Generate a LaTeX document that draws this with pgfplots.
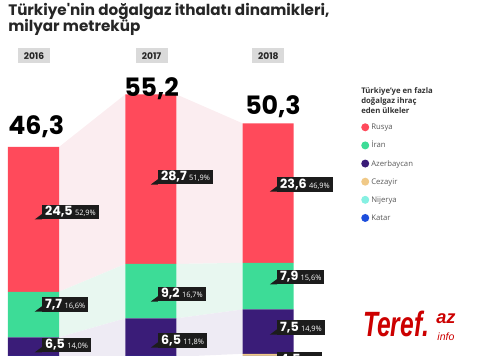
\documentclass[border=0pt]{standalone}
\usepackage{pgfplots}
\pgfplotsset{compat=1.18}
\usepackage{pgfplotstable}
\usepackage{fontspec}
\setmainfont{Open Sans}
\newfontfamily\pop{Poppins}
\newfontfamily\lib{Liberation Sans}
\definecolor{rus}{HTML}{FF4A5B}
\definecolor{iran}{HTML}{3DDC97}
\definecolor{azer}{HTML}{3A1C78}
\definecolor{cez}{HTML}{F0C987}
\definecolor{nij}{HTML}{86F0E2}
\definecolor{kat}{HTML}{1D4EDC}
\definecolor{bandR}{HTML}{FBEDF0}
\definecolor{bandI}{HTML}{E8F7F0}
\definecolor{bandA}{HTML}{EEEBF4}
\definecolor{lblbg}{HTML}{1C1C1C}
\definecolor{yearbg}{HTML}{DADADA}
\definecolor{tref}{HTML}{CC0000}

\pgfplotstableread{
x Katar Nijerya Cezayir Azerbaycan Iran Rusya
0 2.1 1.2 4.3 6.5 7.7 24.5
1 4.9 1.3 4.6 6.5 9.2 28.7
2 5.2 1.6 4.5 7.5 7.9 23.6
}\gasdata

\pgfplotsset{
  base/.style={scale only axis, width=12cm, height=8.9cm,
    xmin=-0.2856, xmax=3.806, ymin=10.93, ymax=71.17,
    hide axis, at={(0,0)}, anchor=south west},
  dot/.style={legend image code/.code={\fill[##1] (0.1cm,0cm) circle (0.1cm);}}
}

% label box with tail; offsets in axis units (0.18cm = 0.0614 x, 0.185cm = 1.252 y)
\newcommand\lab[4]{%
  \fill[lblbg] (axis cs:#1,{#2-1.252}) -- (axis cs:{#1-0.0614},{#2-1.252}) -- (axis cs:#1,{#2-0.35}) -- cycle;
  \node[fill=lblbg, text=white, inner xsep=2pt, inner ysep=1.5pt, anchor=west,
        text height=6.5pt, text depth=1pt] at (axis cs:#1,#2)
        {{\pop\bfseries\fontsize{9}{9}\selectfont #3}\,{\fontsize{5.3}{6}\selectfont #4}};
}

\begin{document}
\begin{tikzpicture}
\begin{axis}[base]
  % connecting bands 2016-2017
  \addplot[fill=bandR, draw=none] coordinates {(0.2175,21.8) (0.2175,46.3) (0.7825,55.2) (0.7825,26.5)};
  \addplot[fill=bandI, draw=none] coordinates {(0.2175,14.1) (0.2175,21.8) (0.7825,26.5) (0.7825,17.3)};
  \addplot[fill=bandA, draw=none] coordinates {(0.2175,7.6) (0.2175,14.1) (0.7825,17.3) (0.7825,10.8)};
  % 2017-2018
  \addplot[fill=bandR, draw=none] coordinates {(1.2175,26.5) (1.2175,55.2) (1.7825,50.3) (1.7825,26.7)};
  \addplot[fill=bandI, draw=none] coordinates {(1.2175,17.3) (1.2175,26.5) (1.7825,26.7) (1.7825,18.8)};
  \addplot[fill=bandA, draw=none] coordinates {(1.2175,10.8) (1.2175,17.3) (1.7825,18.8) (1.7825,11.3)};
\end{axis}
\begin{axis}[base, ybar stacked, bar width=0.435, reverse legend,
  legend style={at={(0.752,0.662)}, anchor=north west, draw=none, fill=none,
    inner sep=0pt, row sep=3.4pt, font=\fontsize{5.5}{6}\selectfont,
    text=black!65, cells={anchor=west},
    nodes={inner sep=1.5pt, text height=5pt, text depth=1.5pt}}]
  \addplot[fill=kat, draw=none, dot] table[x=x,y=Katar]{\gasdata}; \addlegendentry{Katar}
  \addplot[fill=nij, draw=none, dot] table[x=x,y=Nijerya]{\gasdata}; \addlegendentry{Nijerya}
  \addplot[fill=cez, draw=none, dot] table[x=x,y=Cezayir]{\gasdata}; \addlegendentry{Cezayir}
  \addplot[fill=azer, draw=none, dot] table[x=x,y=Azerbaycan]{\gasdata}; \addlegendentry{Azerbaycan}
  \addplot[fill=iran, draw=none, dot] table[x=x,y=Iran]{\gasdata}; \addlegendentry{İran}
  \addplot[fill=rus, draw=none, dot] table[x=x,y=Rusya]{\gasdata}; \addlegendentry{Rusya}
\end{axis}
\begin{axis}[base]
  \lab{0.072}{35.3}{24,5}{52,9\%}
  \lab{0.072}{19.7}{7,7}{16,6\%}
  \lab{0.072}{12.8}{6,5}{14,0\%}
  \lab{1.061}{41.2}{28,7}{51,9\%}
  \lab{1.061}{21.4}{9,2}{16,7\%}
  \lab{1.061}{13.6}{6,5}{11,8\%}
  \lab{2.076}{40.0}{23,6}{46,9\%}
  \lab{2.076}{24.3}{7,9}{15,6\%}
  \lab{2.076}{15.8}{7,5}{14,9\%}
  \node[fill=lblbg, text=white, inner xsep=2pt, inner ysep=1.5pt, anchor=north west,
        text height=6.5pt, text depth=1pt] at (axis cs:2.076,11.6)
        {{\pop\bfseries\fontsize{9}{9}\selectfont 4,5}\,{\fontsize{5.3}{6}\selectfont 8,9\%}};
\end{axis}
% title
\node[anchor=base west, inner sep=0, font=\pop\bfseries\fontsize{10.8}{12}\selectfont, text=black!85] at (0.2cm,8.5cm) {Türkiye'nin doğalgaz ithalatı dinamikleri,};
\node[anchor=base west, inner sep=0, font=\pop\bfseries\fontsize{10.8}{12}\selectfont, text=black!85] at (0.2cm,8.1cm) {milyar metreküp};
% year boxes
\foreach \xx/\yy in {0.85/2016, 3.79/2017, 6.71/2018}
  \node[fill=yearbg, minimum width=0.8cm, minimum height=0.375cm, inner sep=0, font=\pop\bfseries\fontsize{6.5}{7}\selectfont, text=black!85] at (\xx cm,7.5cm) {\yy};
% totals
\node[anchor=base west, inner sep=0, font=\pop\bfseries\fontsize{18}{18}\selectfont] at (0.2cm,5.525cm) {46,3};
\node[anchor=base west, inner sep=0, font=\pop\bfseries\fontsize{18}{18}\selectfont] at (3.1cm,6.475cm) {55,2};
\node[anchor=base west, inner sep=0, font=\pop\bfseries\fontsize{18}{18}\selectfont] at (6.125cm,6.025cm) {50,3};
% legend title
\node[anchor=north west, inner sep=0, align=left, font=\bfseries\fontsize{5.5}{7}\selectfont, text=black!80] at (9.025cm,6.72cm) {Türkiye'ye en fazla\\doğalgaz ihraç\\eden ülkeler};
% watermark
\node[anchor=base west, inner sep=0, xscale=0.7, text=tref, font=\lib\bfseries\itshape\fontsize{25}{25}\selectfont] at (9.075cm,0.475cm) {Teref.};
\node[anchor=south west, inner sep=0, align=center, text=tref] at (10.9cm,0.38cm)
  {{\lib\bfseries\itshape\fontsize{13}{9}\selectfont az}\\{\lib\itshape\fontsize{7.5}{8}\selectfont info}};
\pgfresetboundingbox
\path (0,0) rectangle (12cm,8.9cm);
\end{tikzpicture}
\end{document}
